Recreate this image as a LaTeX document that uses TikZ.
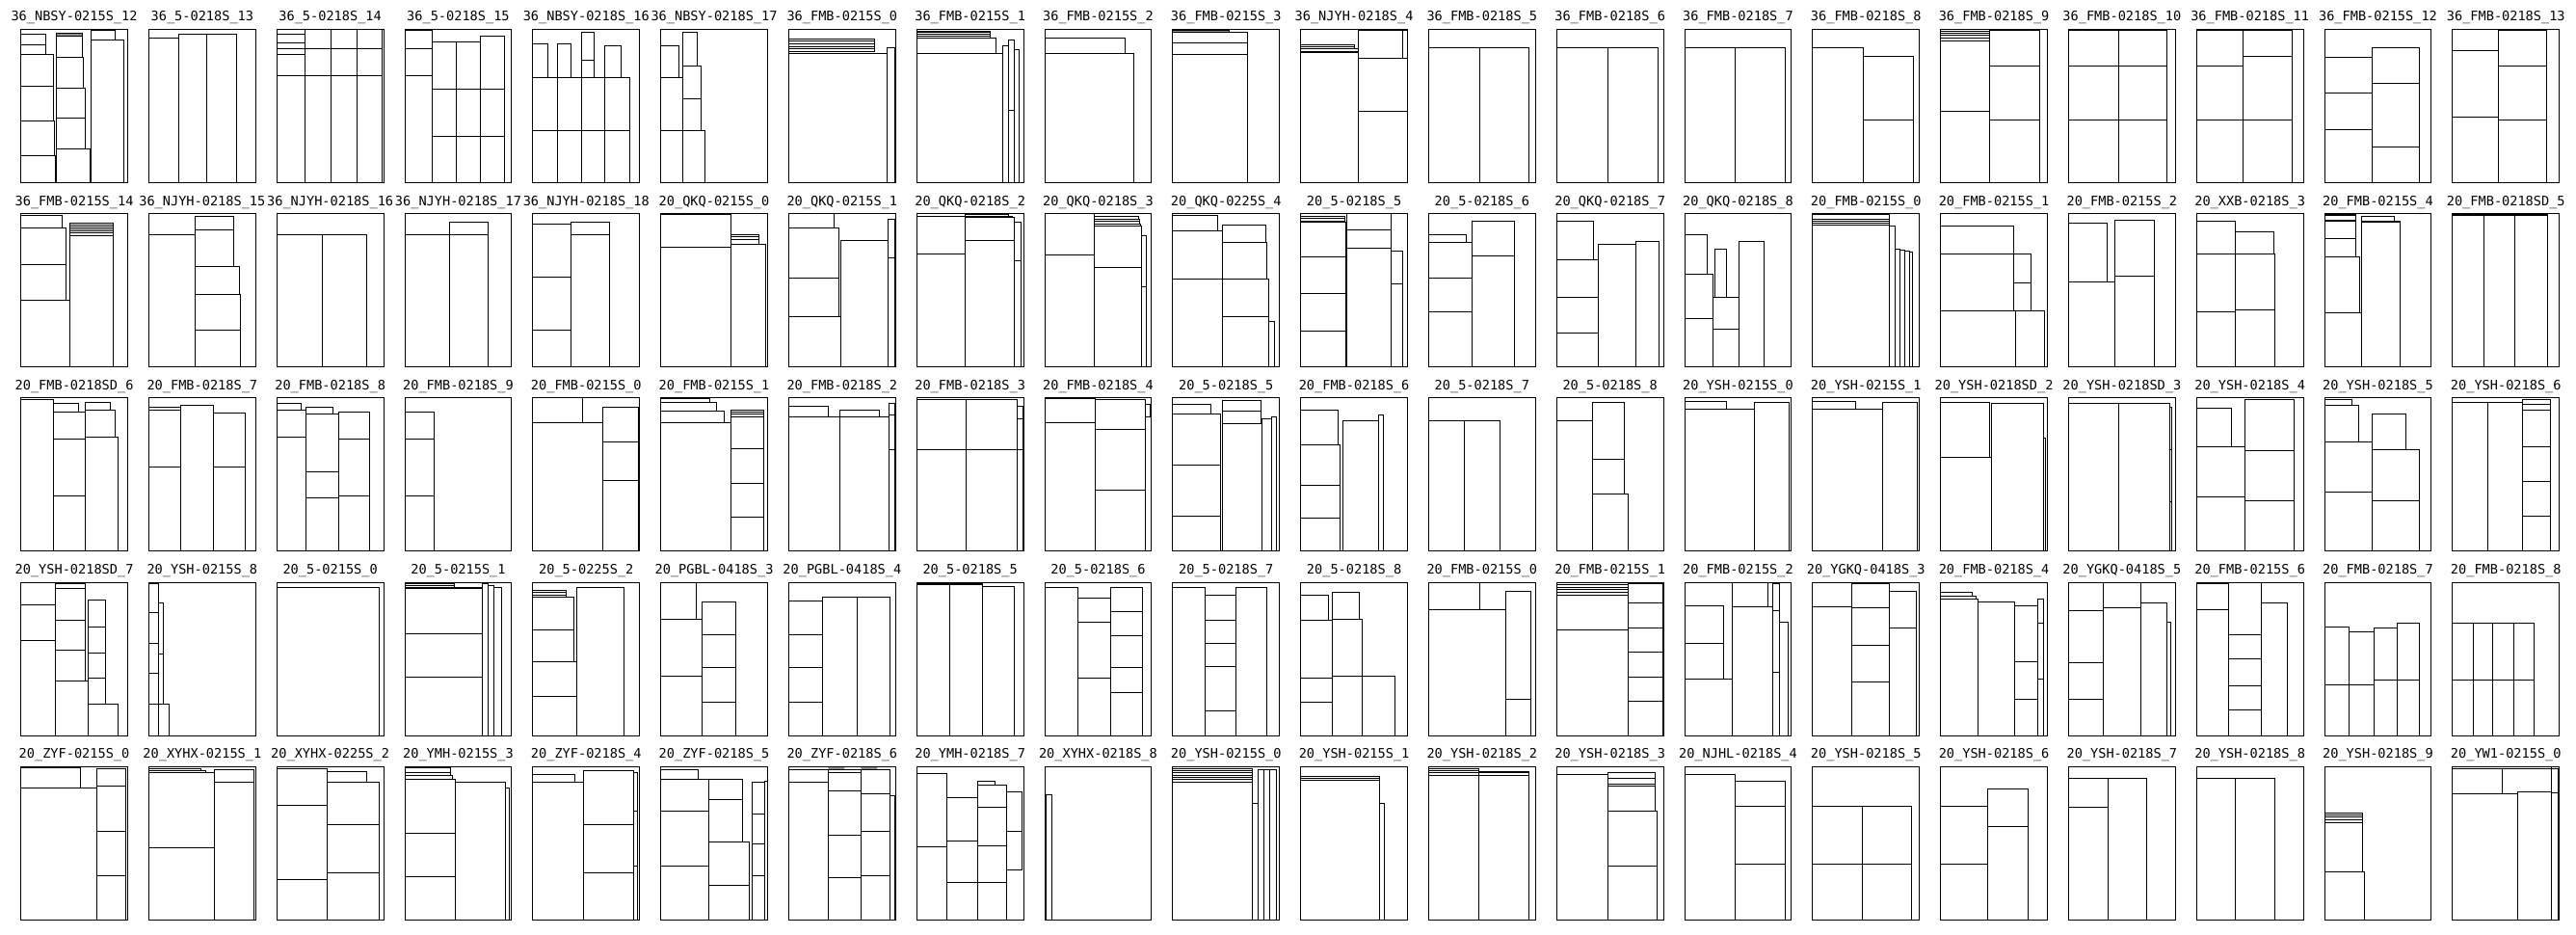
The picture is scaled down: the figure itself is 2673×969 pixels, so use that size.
\documentclass[tikz,border=0pt]{standalone}
\usepackage{fontspec}
\newfontfamily\lblfont{DejaVu Sans Mono}
\tikzset{pc/.style={line width=1pt},
 lbl/.style={font=\lblfont\fontsize{13.6}{14}\selectfont, inner sep=0pt, anchor=base},
 gs/.style={fill=black!45}}
\newcommand\pnl[5][]{%
 \begin{scope}[shift={({21.7+132.8*#2},{30.4+191.25*#3})}]
 \node[lbl] (lab-#3-#2) at (55.35,-8.6) {#4};
 \begin{scope}[xscale=0.8515,yscale=0.3326]
 #1
 \draw[pc] (0,0) rectangle (130,478) #5;
 \end{scope}
 \end{scope}}
\begin{document}
\begin{tikzpicture}[x=1pt,y=-1pt]
\useasboundingbox[fill=white] (0,0) rectangle (2673,969);
% ---------------- row 0
\pnl[{\fill[gs] (43,12) rectangle (75,21);}]{0}{0}{36\_NBSY-0215S\_12}{(0,14) rectangle (30,49) (0,49) rectangle (30,79) (0,79) rectangle (40,179) (0,179) rectangle (40,285) (0,285) rectangle (41,395) (0,395) rectangle (42,477) (43,12) rectangle (75,21) (43,21) rectangle (75,87) (43,87) rectangle (76,184) (43,184) rectangle (78,277) (43,277) rectangle (78,372) (43,372) rectangle (84,477) (85,3) rectangle (115,34) (85,34) rectangle (125,477)}
\pnl{1}{0}{36\_5-0218S\_13}{(0,27) rectangle (36,477) (36,14) rectangle (71,477) (71,14) rectangle (107,477)}
\pnl{2}{0}{36\_5-0218S\_14}{(0,14) rectangle (34,42) (0,42) rectangle (34,60) (0,60) rectangle (34,79) (0,79) rectangle (34,144) (34,0) rectangle (66,61) (66,0) rectangle (98,61) (98,0) rectangle (128,61) (34,61) rectangle (66,144) (66,61) rectangle (98,144) (98,61) rectangle (128,144) (0,144) rectangle (34,477) (34,144) rectangle (66,477) (66,144) rectangle (98,477) (98,144) rectangle (128,477)}
\pnl{3}{0}{36\_5-0218S\_15}{(0,2) rectangle (33,59) (0,59) rectangle (33,144) (0,144) rectangle (33,477) (33,39) rectangle (63,186) (63,39) rectangle (92,186) (92,21) rectangle (122,186) (33,186) rectangle (63,334) (63,186) rectangle (92,334) (92,186) rectangle (122,334) (33,334) rectangle (63,477) (63,334) rectangle (92,477) (92,334) rectangle (122,477)}
\pnl{4}{0}{36\_NBSY-0218S\_16}{(0,44) rectangle (18,152) (30,44) rectangle (47,152) (59,10) rectangle (75,96) (59,96) rectangle (75,152) (88,51) rectangle (108,152) (0,152) rectangle (30,316) (30,152) rectangle (59,316) (59,152) rectangle (88,316) (88,152) rectangle (118,316) (0,316) rectangle (30,477) (30,316) rectangle (59,477) (59,316) rectangle (88,477) (88,316) rectangle (118,477)}
\pnl{5}{0}{36\_NBSY-0218S\_17}{(0,51) rectangle (22,152) (27,10) rectangle (44,114) (27,114) rectangle (49,217) (27,217) rectangle (49,316) (0,152) rectangle (27,316) (0,316) rectangle (27,477) (27,316) rectangle (54,477)}
\pnl{6}{0}{36\_FMB-0215S\_0}{(0,29) rectangle (105,37) (0,37) rectangle (105,45) (0,45) rectangle (105,53) (0,53) rectangle (105,61) (0,61) rectangle (105,69) (0,74) rectangle (120,477) (120,57) rectangle (129,477)}
\pnl{7}{0}{36\_FMB-0215S\_1}{(0,5) rectangle (90,10) (0,10) rectangle (90,15) (0,15) rectangle (90,21) (0,21) rectangle (90,27) (0,27) rectangle (97,74) (0,74) rectangle (105,477) (105,52) rectangle (112,477) (112,32) rectangle (119,254) (112,254) rectangle (119,477) (119,62) rectangle (125,477)}
\pnl{8}{0}{36\_FMB-0215S\_2}{(0,27) rectangle (98,74) (0,74) rectangle (108,477)}
\pnl[{\fill[gs] (0,2) rectangle (69,10);}]{9}{0}{36\_FMB-0215S\_3}{(0,2) rectangle (69,10) (0,10) rectangle (91,42) (0,42) rectangle (91,77) (0,77) rectangle (91,477)}
\pnl{10}{0}{36\_NJYH-0218S\_4}{(0,47) rectangle (65,53) (0,53) rectangle (65,59) (0,59) rectangle (70,68) (0,71) rectangle (70,477) (70,2) rectangle (124,92) (124,2) rectangle (130,92) (70,92) rectangle (130,256) (70,256) rectangle (130,477)}
\pnl{11}{0}{36\_FMB-0218S\_5}{(0,57) rectangle (62,477) (62,57) rectangle (122,477)}
\pnl{12}{0}{36\_FMB-0218S\_6}{(0,57) rectangle (62,477) (62,57) rectangle (124,477)}
\pnl{13}{0}{36\_FMB-0218S\_7}{(0,57) rectangle (61,477) (61,57) rectangle (122,477)}
\pnl{14}{0}{36\_FMB-0218S\_8}{(0,57) rectangle (62,477) (62,85) rectangle (123,282) (62,282) rectangle (123,477)}
\pnl{15}{0}{36\_FMB-0218S\_9}{(0,5) rectangle (60,12) (0,12) rectangle (60,19) (0,19) rectangle (60,27) (0,27) rectangle (60,35) (0,35) rectangle (60,256) (0,256) rectangle (60,477) (60,2) rectangle (121,115) (60,115) rectangle (121,283) (60,283) rectangle (121,477)}
\pnl{16}{0}{36\_FMB-0218S\_10}{(0,0) rectangle (120,4) (0,4) rectangle (61,114) (61,4) rectangle (120,114) (0,114) rectangle (61,283) (61,114) rectangle (120,283) (0,283) rectangle (61,477) (61,283) rectangle (120,477)}
\pnl{17}{0}{36\_FMB-0218S\_11}{(0,0) rectangle (57,4) (0,4) rectangle (57,114) (57,2) rectangle (116,85) (0,114) rectangle (57,283) (57,85) rectangle (116,283) (0,283) rectangle (57,477) (57,283) rectangle (116,477)}
\pnl{18}{0}{36\_FMB-0215S\_12}{(0,87) rectangle (58,199) (0,199) rectangle (58,313) (0,313) rectangle (58,477) (58,57) rectangle (116,169) (58,169) rectangle (116,368) (58,368) rectangle (116,477)}
\pnl{19}{0}{36\_FMB-0218S\_13}{(0,66) rectangle (56,275) (0,275) rectangle (56,477) (56,2) rectangle (114,115) (56,115) rectangle (114,283) (56,283) rectangle (114,477)}
% ---------------- row 1
\pnl{0}{1}{36\_FMB-0215S\_14}{(0,6) rectangle (50,46) (0,46) rectangle (55,158) (0,158) rectangle (55,271) (0,271) rectangle (60,478) (60,29) rectangle (113,35) (60,35) rectangle (113,41) (60,41) rectangle (113,48) (60,48) rectangle (113,55) (60,55) rectangle (113,61) (60,61) rectangle (113,68) (60,68) rectangle (113,478)}
\pnl{1}{1}{36\_NJYH-0218S\_15}{(0,65) rectangle (56,478) (56,10) rectangle (103,51) (56,51) rectangle (103,165) (56,165) rectangle (110,253) (56,253) rectangle (111,363) (56,363) rectangle (111,478)}
\pnl{2}{1}{36\_NJYH-0218S\_16}{(0,65) rectangle (55,478) (55,65) rectangle (110,478)}
\pnl{3}{1}{36\_NJYH-0218S\_17}{(0,65) rectangle (54,478) (54,26) rectangle (101,65) (54,65) rectangle (101,478)}
\pnl{4}{1}{36\_NJYH-0218S\_18}{(0,33) rectangle (46,198) (0,198) rectangle (46,363) (0,363) rectangle (46,478) (46,26) rectangle (93,65) (46,65) rectangle (93,478)}
\pnl{5}{1}{20\_QKQ-0215S\_0}{(0,2) rectangle (85,105) (0,105) rectangle (85,478) (85,65) rectangle (120,73) (85,73) rectangle (120,81) (85,81) rectangle (120,95) (85,95) rectangle (128,478)}
\pnl{6}{1}{20\_QKQ-0215S\_1}{(0,0) rectangle (55,44) (0,44) rectangle (61,201) (0,201) rectangle (61,321) (0,321) rectangle (63,478) (63,84) rectangle (121,478) (121,18) rectangle (129,139) (121,139) rectangle (129,478)}
\pnl{7}{1}{20\_QKQ-0218S\_2}{(0,8) rectangle (59,126) (0,126) rectangle (59,478) (59,2) rectangle (112,8) (59,8) rectangle (117,13) (59,13) rectangle (119,83) (59,83) rectangle (119,478) (119,28) rectangle (127,146) (119,146) rectangle (127,478)}
\pnl{8}{1}{20\_QKQ-0218S\_3}{(0,0) rectangle (60,128) (0,128) rectangle (60,478) (60,10) rectangle (114,18) (60,18) rectangle (115,25) (60,25) rectangle (116,32) (60,32) rectangle (117,38) (60,38) rectangle (118,167) (60,167) rectangle (118,478) (118,70) rectangle (124,228) (118,228) rectangle (124,478)}
\pnl{9}{1}{20\_QKQ-0225S\_4}{(0,5) rectangle (55,53) (0,53) rectangle (60,205) (0,205) rectangle (60,478) (60,35) rectangle (114,90) (60,90) rectangle (115,205) (60,205) rectangle (117,321) (60,321) rectangle (117,478) (117,336) rectangle (124,478)}
\pnl{10}{1}{20\_5-0218S\_5}{(0,10) rectangle (54,16) (0,16) rectangle (54,23) (0,23) rectangle (54,28) (0,28) rectangle (55,135) (0,135) rectangle (55,250) (0,250) rectangle (55,365) (0,365) rectangle (55,478) (56,1) rectangle (110,50) (56,50) rectangle (110,108) (56,108) rectangle (110,478) (110,117) rectangle (124,220) (110,220) rectangle (124,478)}
\pnl{11}{1}{20\_5-0218S\_6}{(0,67) rectangle (46,90) (0,90) rectangle (53,202) (0,202) rectangle (53,305) (0,305) rectangle (53,478) (53,23) rectangle (105,132) (53,132) rectangle (105,478)}
\pnl{12}{1}{20\_QKQ-0218S\_7}{(0,23) rectangle (45,143) (0,143) rectangle (51,260) (0,260) rectangle (51,371) (0,371) rectangle (51,478) (51,95) rectangle (96,478) (96,86) rectangle (125,478)}
\pnl{13}{1}{20\_QKQ-0218S\_8}{(0,67) rectangle (28,189) (0,189) rectangle (35,328) (0,328) rectangle (35,478) (37,110) rectangle (51,260) (35,260) rectangle (66,360) (35,360) rectangle (66,478) (66,86) rectangle (97,478)}
\pnl{14}{1}{20\_FMB-0215S\_0}{(0,2) rectangle (94,18) (0,18) rectangle (94,24) (0,24) rectangle (94,30) (0,30) rectangle (94,36) (0,36) rectangle (94,478) (94,40) rectangle (100,478) (100,110) rectangle (106,478) (106,113) rectangle (112,478) (112,117) rectangle (118,478) (118,121) rectangle (122,478)}
\pnl{15}{1}{20\_FMB-0215S\_1}{(0,38) rectangle (89,125) (0,125) rectangle (89,303) (89,125) rectangle (110,217) (89,217) rectangle (110,303) (0,303) rectangle (91,478) (91,303) rectangle (127,478)}
\pnl{16}{1}{20\_FMB-0215S\_2}{(0,31) rectangle (47,212) (0,212) rectangle (56,478) (56,21) rectangle (104,195) (56,195) rectangle (104,478)}
\pnl{17}{1}{20\_XXB-0218S\_3}{(0,23) rectangle (47,125) (0,125) rectangle (47,305) (0,305) rectangle (47,478) (47,56) rectangle (94,125) (47,125) rectangle (95,300) (47,300) rectangle (95,478)}
\pnl{18}{1}{20\_FMB-0215S\_4}{(0,2) rectangle (38,6) (0,6) rectangle (38,20) (0,20) rectangle (38,25) (0,25) rectangle (38,77) (0,77) rectangle (38,135) (0,135) rectangle (43,308) (0,308) rectangle (45,478) (45,8) rectangle (85,23) (45,23) rectangle (92,27) (45,27) rectangle (92,478)}
\pnl{19}{1}{20\_FMB-0218SD\_5}{(0,2) rectangle (116,6) (0,6) rectangle (38,478) (38,6) rectangle (76,478) (76,6) rectangle (116,478)}
% ---------------- row 2
\pnl{0}{2}{20\_FMB-0218SD\_6}{(0,4) rectangle (40,478) (40,17) rectangle (70,44) (40,44) rectangle (79,129) (40,129) rectangle (79,305) (40,305) rectangle (79,478) (79,14) rectangle (109,37) (79,37) rectangle (115,122) (79,122) rectangle (118,478)}
\pnl{1}{2}{20\_FMB-0218S\_7}{(0,29) rectangle (39,37) (0,37) rectangle (39,214) (0,214) rectangle (39,478) (39,24) rectangle (79,478) (79,47) rectangle (118,214) (79,214) rectangle (118,478)}
\pnl{2}{2}{20\_FMB-0218S\_8}{(0,17) rectangle (30,38) (0,38) rectangle (36,122) (0,122) rectangle (36,478) (36,29) rectangle (68,50) (36,50) rectangle (75,229) (36,229) rectangle (75,310) (36,310) rectangle (75,478) (75,44) rectangle (113,129) (75,129) rectangle (113,305) (75,305) rectangle (113,478)}
\pnl{3}{2}{20\_FMB-0218S\_9}{(0,44) rectangle (36,129) (0,129) rectangle (36,305) (0,305) rectangle (36,478)}
\pnl{4}{2}{20\_FMB-0215S\_0}{(0,0) rectangle (61,77) (0,77) rectangle (85,478) (85,30) rectangle (129,137) (85,137) rectangle (129,256) (85,256) rectangle (129,478)}
\pnl{5}{2}{20\_FMB-0215S\_1}{(0,2) rectangle (60,14) (0,14) rectangle (68,40) (0,40) rectangle (77,77) (0,77) rectangle (85,478) (85,37) rectangle (125,44) (85,44) rectangle (125,50) (85,50) rectangle (125,60) (85,60) rectangle (125,159) (85,159) rectangle (125,267) (85,267) rectangle (125,373) (85,373) rectangle (125,478)}
\pnl{6}{2}{20\_FMB-0218S\_2}{(0,25) rectangle (48,59) (0,59) rectangle (62,478) (62,37) rectangle (110,59) (62,59) rectangle (122,478) (122,17) rectangle (129,54) (122,54) rectangle (129,162) (122,162) rectangle (129,478)}
\pnl{7}{2}{20\_FMB-0218S\_3}{(0,6) rectangle (60,160) (60,6) rectangle (122,160) (0,160) rectangle (60,478) (60,160) rectangle (122,478) (122,27) rectangle (129,64) (122,64) rectangle (129,160) (122,160) rectangle (129,478)}
\pnl{8}{2}{20\_FMB-0218S\_4}{(0,2) rectangle (62,77) (0,77) rectangle (62,478) (62,4) rectangle (122,97) (62,97) rectangle (122,288) (62,288) rectangle (122,478) (122,19) rectangle (129,60)}
\pnl{9}{2}{20\_5-0218S\_5}{(0,20) rectangle (47,50) (0,50) rectangle (58,210) (0,210) rectangle (58,368) (0,368) rectangle (58,478) (60,7) rectangle (107,40) (60,40) rectangle (107,80) (60,80) rectangle (109,478) (109,64) rectangle (120,478) (120,60) rectangle (126,478)}
\pnl{10}{2}{20\_FMB-0218S\_6}{(0,38) rectangle (46,147) (0,147) rectangle (48,272) (0,272) rectangle (48,375) (0,375) rectangle (48,478) (51,72) rectangle (95,478) (95,52) rectangle (101,478)}
\pnl{11}{2}{20\_5-0218S\_7}{(0,72) rectangle (44,478) (44,72) rectangle (87,478)}
\pnl{12}{2}{20\_5-0218S\_8}{(0,72) rectangle (44,478) (44,14) rectangle (83,190) (44,190) rectangle (83,298) (44,298) rectangle (87,478)}
\pnl{13}{2}{20\_YSH-0215S\_0}{(0,12) rectangle (51,35) (0,35) rectangle (85,478) (85,14) rectangle (127,478)}
\pnl{14}{2}{20\_YSH-0215S\_1}{(0,12) rectangle (52,35) (0,35) rectangle (85,478) (85,14) rectangle (128,478)}
\pnl{15}{2}{20\_YSH-0218SD\_2}{(0,13) rectangle (60,185) (0,185) rectangle (62,478) (62,18) rectangle (125,478) (125,125) rectangle (128,478)}
\pnl{16}{2}{20\_YSH-0218SD\_3}{(0,18) rectangle (61,478) (61,18) rectangle (123,478) (123,30) rectangle (126,162) (123,162) rectangle (126,322) (123,322) rectangle (126,478)}
\pnl{17}{2}{20\_YSH-0218S\_4}{(0,32) rectangle (43,152) (0,152) rectangle (59,309) (0,309) rectangle (59,478) (59,6) rectangle (119,164) (59,164) rectangle (119,320) (59,320) rectangle (119,478)}
\pnl{18}{2}{20\_YSH-0218S\_5}{(0,6) rectangle (33,22) (0,22) rectangle (41,137) (0,137) rectangle (58,293) (0,293) rectangle (58,478) (58,50) rectangle (99,162) (58,162) rectangle (115,320) (58,320) rectangle (115,478)}
\pnl{19}{2}{20\_YSH-0218S\_6}{(0,14) rectangle (43,478) (43,14) rectangle (85,478) (85,4) rectangle (119,20) (85,20) rectangle (119,37) (85,37) rectangle (119,152) (85,152) rectangle (119,260) (85,260) rectangle (119,369) (85,369) rectangle (119,478)}
% ---------------- row 3
\pnl{0}{3}{20\_YSH-0218SD\_7}{(0,0) rectangle (42,70) (0,70) rectangle (42,182) (0,182) rectangle (42,478) (42,4) rectangle (78,19) (42,19) rectangle (78,117) (42,117) rectangle (78,212) (42,212) rectangle (78,309) (42,309) rectangle (82,478) (82,55) rectangle (103,139) (82,139) rectangle (103,222) (82,222) rectangle (103,299) (82,299) rectangle (103,380) (82,380) rectangle (118,478)}
\pnl{1}{3}{20\_YSH-0215S\_8}{(0,5) rectangle (12,95) (0,95) rectangle (12,190) (0,190) rectangle (12,285) (0,285) rectangle (12,380) (12,65) rectangle (18,225) (12,225) rectangle (18,380) (0,380) rectangle (12,478) (12,380) rectangle (25,478)}
\pnl{2}{3}{20\_5-0215S\_0}{(0,15) rectangle (125,478)}
\pnl{3}{3}{20\_5-0215S\_1}{(0,5) rectangle (60,9) (0,9) rectangle (60,15) (0,15) rectangle (94,20) (0,20) rectangle (94,159) (0,159) rectangle (94,297) (0,297) rectangle (94,478) (94,5) rectangle (101,478) (101,9) rectangle (109,478) (109,15) rectangle (118,478)}
\pnl{4}{3}{20\_5-0225S\_2}{(0,25) rectangle (41,32) (0,32) rectangle (41,39) (0,39) rectangle (41,47) (0,47) rectangle (50,147) (0,147) rectangle (50,247) (0,247) rectangle (54,357) (0,357) rectangle (54,478) (54,15) rectangle (111,478)}
\pnl{5}{3}{20\_PGBL-0418S\_3}{(0,0) rectangle (43,115) (0,115) rectangle (50,294) (0,294) rectangle (50,478) (50,60) rectangle (91,162) (50,162) rectangle (91,267) (50,267) rectangle (91,374) (50,374) rectangle (91,478)}
\pnl{6}{3}{20\_PGBL-0418S\_4}{(0,57) rectangle (41,162) (0,162) rectangle (41,267) (0,267) rectangle (41,374) (0,374) rectangle (41,478) (41,45) rectangle (83,478) (83,45) rectangle (123,478)}
\pnl{7}{3}{20\_5-0218S\_5}{(0,3) rectangle (80,7) (0,7) rectangle (40,478) (40,7) rectangle (80,478) (80,13) rectangle (119,478)}
\pnl{8}{3}{20\_5-0218S\_6}{(0,15) rectangle (40,478) (40,50) rectangle (80,125) (40,125) rectangle (80,300) (40,300) rectangle (80,478) (80,15) rectangle (119,92) (80,92) rectangle (119,167) (80,167) rectangle (119,267) (80,267) rectangle (119,343) (80,343) rectangle (119,478)}
\pnl{9}{3}{20\_5-0218S\_7}{(0,15) rectangle (40,478) (40,40) rectangle (77,117) (40,117) rectangle (77,189) (40,189) rectangle (77,264) (40,264) rectangle (77,402) (40,402) rectangle (77,478) (77,15) rectangle (115,478)}
\pnl{10}{3}{20\_5-0218S\_8}{(0,40) rectangle (34,117) (0,117) rectangle (38,299) (0,299) rectangle (38,375) (0,375) rectangle (38,478) (38,32) rectangle (71,114) (38,114) rectangle (75,294) (38,294) rectangle (75,478) (75,294) rectangle (115,478)}
\pnl{11}{3}{20\_FMB-0215S\_0}{(0,0) rectangle (62,84) (0,84) rectangle (94,478) (94,27) rectangle (124,364) (94,364) rectangle (124,478)}
\pnl{12}{3}{20\_FMB-0215S\_1}{(0,8) rectangle (87,15) (0,15) rectangle (87,23) (0,23) rectangle (87,30) (0,30) rectangle (87,39) (0,39) rectangle (87,147) (0,147) rectangle (87,478) (87,5) rectangle (129,64) (87,64) rectangle (129,142) (87,142) rectangle (129,217) (87,217) rectangle (129,295) (87,295) rectangle (129,370) (87,370) rectangle (129,478)}
\pnl{13}{3}{20\_FMB-0215S\_2}{(0,74) rectangle (48,189) (0,189) rectangle (48,302) (0,302) rectangle (58,478) (58,2) rectangle (101,77) (58,77) rectangle (107,478) (107,3) rectangle (116,87) (107,87) rectangle (116,282) (107,282) rectangle (116,478) (116,125) rectangle (126,478)}
\pnl{14}{3}{20\_YGKQ-0418S\_3}{(0,2) rectangle (48,77) (0,77) rectangle (48,478) (48,5) rectangle (94,79) (48,79) rectangle (94,196) (48,196) rectangle (94,310) (48,310) rectangle (94,478) (94,27) rectangle (126,142) (94,142) rectangle (126,478)}
\pnl{15}{3}{20\_FMB-0218S\_4}{(0,32) rectangle (38,42) (0,42) rectangle (43,52) (0,52) rectangle (45,478) (45,62) rectangle (90,478) (90,72) rectangle (118,247) (90,247) rectangle (118,364) (90,364) rectangle (118,478) (118,52) rectangle (125,127) (118,127) rectangle (125,302) (118,302) rectangle (125,478)}
\pnl{16}{3}{20\_YGKQ-0418S\_5}{(0,2) rectangle (42,87) (0,87) rectangle (42,252) (0,252) rectangle (42,364) (0,364) rectangle (42,478) (42,2) rectangle (88,79) (42,79) rectangle (88,478) (88,64) rectangle (120,478) (120,125) rectangle (125,478)}
\pnl{17}{3}{20\_FMB-0215S\_6}{(0,5) rectangle (39,85) (0,85) rectangle (39,478) (39,2) rectangle (79,162) (39,162) rectangle (79,239) (39,239) rectangle (79,322) (39,322) rectangle (79,399) (39,399) rectangle (79,478) (79,64) rectangle (111,478)}
\pnl{18}{3}{20\_FMB-0218S\_7}{(0,140) rectangle (30,319) (0,319) rectangle (30,478) (30,154) rectangle (60,319) (30,319) rectangle (60,478) (60,142) rectangle (88,304) (60,304) rectangle (88,478) (88,128) rectangle (115,304) (88,304) rectangle (115,478)}
\pnl{19}{3}{20\_FMB-0218S\_8}{(0,128) rectangle (25,304) (0,304) rectangle (25,478) (25,128) rectangle (49,304) (25,304) rectangle (49,478) (49,128) rectangle (75,304) (49,304) rectangle (75,478) (75,128) rectangle (99,304) (75,304) rectangle (99,478)}
% ---------------- row 4
\pnl{0}{4}{20\_ZYF-0215S\_0}{(0,0) rectangle (72,4) (0,4) rectangle (72,66) (0,66) rectangle (92,478) (92,6) rectangle (128,60) (92,60) rectangle (128,201) (92,201) rectangle (128,339) (92,339) rectangle (128,478)}
\pnl{1}{4}{20\_XYHX-0215S\_1}{(0,6) rectangle (63,12) (0,12) rectangle (69,19) (0,19) rectangle (80,254) (0,254) rectangle (80,478) (80,9) rectangle (128,47) (80,47) rectangle (128,478)}
\pnl{2}{4}{20\_XYHX-0225S\_2}{(0,6) rectangle (61,121) (0,121) rectangle (61,352) (0,352) rectangle (61,478) (61,16) rectangle (109,49) (61,49) rectangle (125,182) (61,182) rectangle (125,330) (61,330) rectangle (125,478)}
\pnl{3}{4}{20\_YMH-0215S\_3}{(0,4) rectangle (56,19) (0,19) rectangle (56,26) (0,26) rectangle (58,39) (0,39) rectangle (61,209) (0,209) rectangle (61,344) (0,344) rectangle (61,478) (61,49) rectangle (123,478) (123,66) rectangle (127,478)}
\pnl{4}{4}{20\_ZYF-0218S\_4}{(0,24) rectangle (51,49) (0,49) rectangle (62,478) (62,12) rectangle (123,181) (62,181) rectangle (123,330) (62,330) rectangle (123,478) (123,19) rectangle (128,139) (123,139) rectangle (128,309) (123,309) rectangle (128,478)}
\pnl{5}{4}{20\_ZYF-0218S\_5}{(0,10) rectangle (45,40) (0,40) rectangle (58,139) (0,139) rectangle (58,309) (0,309) rectangle (58,478) (58,39) rectangle (100,101) (58,101) rectangle (100,234) (58,234) rectangle (108,371) (58,371) rectangle (108,478) (111,49) rectangle (126,147) (111,147) rectangle (126,242) (111,242) rectangle (126,341) (111,341) rectangle (126,478) (126,46) rectangle (130,478)}
\pnl[{\fill[gs] (48,0) rectangle (68,8) (88,0) rectangle (108,8);}]{6}{4}{20\_ZYF-0218S\_6}{(0,8) rectangle (48,49) (0,49) rectangle (48,478) (48,9) rectangle (88,19) (48,19) rectangle (88,74) (48,74) rectangle (88,214) (48,214) rectangle (88,345) (48,345) rectangle (88,478) (88,9) rectangle (123,84) (88,84) rectangle (123,201) (88,201) rectangle (123,339) (88,339) rectangle (123,478) (123,89) rectangle (129,478)}
\pnl{7}{4}{20\_YMH-0218S\_7}{(0,21) rectangle (37,249) (0,249) rectangle (37,478) (37,97) rectangle (74,232) (37,232) rectangle (74,361) (37,361) rectangle (74,478) (74,44) rectangle (95,57) (74,57) rectangle (109,127) (74,127) rectangle (109,246) (74,246) rectangle (109,361) (74,361) rectangle (109,478) (109,77) rectangle (128,201) (109,201) rectangle (128,322)}
\pnl{8}{4}{20\_XYHX-0218S\_8}{(2,87) rectangle (9,478) (0,154) rectangle (2,478)}
\pnl{9}{4}{20\_YSH-0215S\_0}{(0,6) rectangle (97,12) (0,12) rectangle (97,19) (0,19) rectangle (97,26) (0,26) rectangle (97,33) (0,33) rectangle (97,40) (0,40) rectangle (97,47) (0,47) rectangle (97,478) (97,114) rectangle (104,478) (104,9) rectangle (111,478) (111,9) rectangle (118,478) (118,9) rectangle (126,478)}
\pnl{10}{4}{20\_YSH-0215S\_1}{(0,29) rectangle (96,36) (0,36) rectangle (96,43) (0,43) rectangle (96,478) (96,114) rectangle (102,478)}
\pnl{11}{4}{20\_YSH-0218S\_2}{(0,6) rectangle (61,12) (0,12) rectangle (61,19) (0,19) rectangle (61,26) (0,26) rectangle (61,478) (61,14) rectangle (122,19) (61,19) rectangle (122,26) (61,26) rectangle (122,478)}
\pnl{12}{4}{20\_YSH-0218S\_3}{(0,24) rectangle (62,478) (62,19) rectangle (120,37) (62,37) rectangle (120,55) (62,55) rectangle (120,60) (62,60) rectangle (120,139) (62,139) rectangle (122,309) (62,309) rectangle (122,478)}
\pnl{13}{4}{20\_NJHL-0218S\_4}{(0,24) rectangle (61,478) (61,44) rectangle (122,125) (61,125) rectangle (122,304) (61,304) rectangle (122,478)}
\pnl{14}{4}{20\_YSH-0218S\_5}{(0,125) rectangle (61,304) (61,125) rectangle (120,304) (0,304) rectangle (61,478) (61,304) rectangle (120,478)}
\pnl{15}{4}{20\_YSH-0218S\_6}{(0,125) rectangle (57,304) (0,304) rectangle (57,478) (57,69) rectangle (107,186) (57,186) rectangle (107,478)}
\pnl{16}{4}{20\_YSH-0218S\_7}{(0,36) rectangle (48,127) (0,127) rectangle (48,478) (48,36) rectangle (95,478)}
\pnl{17}{4}{20\_YSH-0218S\_8}{(0,36) rectangle (47,478) (47,36) rectangle (95,478)}
\pnl{18}{4}{20\_YSH-0218S\_9}{(0,145) rectangle (46,151) (0,151) rectangle (46,158) (0,158) rectangle (46,165) (0,165) rectangle (46,175) (0,175) rectangle (46,328) (0,328) rectangle (49,478)}
\pnl{19}{4}{20\_YW1-0215S\_0}{(0,0) rectangle (121,7) (0,7) rectangle (60,85) (0,85) rectangle (79,478) (79,79) rectangle (121,478) (121,7) rectangle (129,82) (121,82) rectangle (129,478)}
\end{tikzpicture}
\end{document}
